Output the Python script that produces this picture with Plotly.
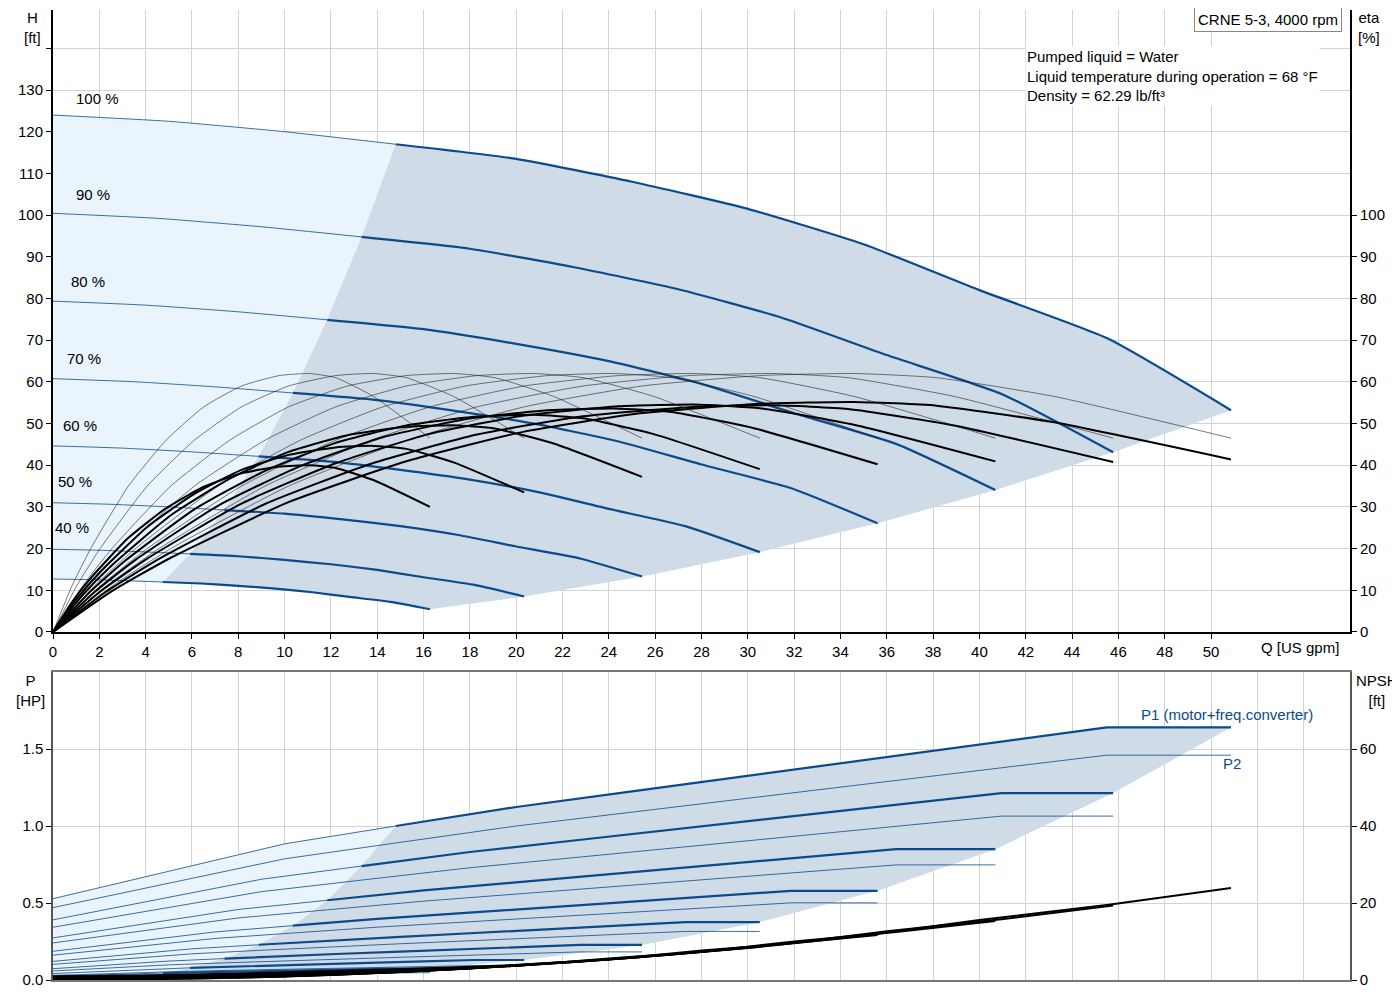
import plotly.graph_objects as go

# speeds shown on the chart and their labels
speeds = [1.0, 0.9, 0.8, 0.7, 0.6, 0.5, 0.4, 0.32]
speed_labels = ["100 %", "90 %", "80 %", "70 %", "60 %", "50 %", "40 %", "32 %"]
# label positions (Q, H)
label_q = [0.9, 0.9, 0.7, 0.5, 0.35, 0.15, 0.0, -0.15]
label_h = [125.5, 102.4, 81.5, 63.0, 47.0, 33.6, 22.5, 15.8]

# 100 % curves
q_base = [0, 5, 10, 14.8, 20, 25, 30, 35, 40, 45.5, 50.86]
h_base = [124, 122.5, 120, 117, 113.5, 108, 101.5, 93, 82, 70.5, 53.2]
p2_base = [0.47, 0.63, 0.787, 0.89, 1.0, 1.09, 1.18, 1.27, 1.36, 1.46, 1.46]
npsh_base = [1.0, 1.3, 2.0, 2.8, 3.9, 5.8, 8.3, 11.5, 15.6, 19.5, 23.9]
q_start = 14.8  # start of operating range at 100 %
i_start = 3

# pump efficiency vs fraction of max flow
eta_r = [0, 0.05, 0.1, 0.2, 0.3, 0.4, 0.5, 0.6, 0.68, 0.75, 0.85, 1.0]
eta_pump = [0, 11, 20, 35, 46, 54, 59, 61.5, 62, 61, 56.5, 46.5]
# motor+converter factor per speed (thick efficiency / thin efficiency)
drive_eff = [0.89, 0.877, 0.88, 0.865, 0.84, 0.8, 0.72, 0.645]

BLUE = "#0b4a8b"
DARK = "#cfdbe6"
LIGHT = "#eaf4fd"
FONT = "Liberation Sans"

fig = go.Figure()


def scaled(s, vals, power):
    return [v * s ** power for v in vals]


def add(x, y, color, width, xa="x", ya="y", shape="spline"):
    fig.add_trace(go.Scatter(x=x, y=y, mode="lines", xaxis=xa, yaxis=ya,
                             line=dict(color=color, width=width, shape=shape, smoothing=0.5),
                             hoverinfo="skip", showlegend=False))


def fill(x, y, color, xa="x", ya="y"):
    fig.add_trace(go.Scatter(x=x, y=y, mode="lines", fill="toself", fillcolor=color,
                             line=dict(width=0), xaxis=xa, yaxis=ya,
                             hoverinfo="skip", showlegend=False))


def regions(curve, ends_y, starts_y, xa, ya):
    s0, sl = speeds[0], speeds[-1]
    c0, cl = curve(s0), curve(sl)
    # light region
    lx = q_base[:i_start + 1] + [s * q_start for s in speeds[1:]] + [sl * q for q in q_base[:i_start + 1]][::-1]
    ly = c0[:i_start + 1] + starts_y[1:] + cl[:i_start + 1][::-1]
    fill(lx, ly, LIGHT, xa, ya)
    # dark region
    dx = q_base[i_start:] + [s * q_base[-1] for s in speeds[1:]] + [sl * q for q in q_base[i_start:]][::-1] \
        + [s * q_start for s in speeds[::-1]]
    dy = c0[i_start:] + ends_y[1:] + cl[i_start:][::-1] + starts_y[::-1]
    fill(dx, dy, DARK, xa, ya)


# head curves
h_curves = lambda s: scaled(s, h_base, 2)
regions(h_curves, [h_curves(s)[-1] for s in speeds], [h_curves(s)[i_start] for s in speeds], "x", "y")

# power curves (P1 = P2 / drive efficiency)
p1_of = {s: [v / drive_eff[k] for v in scaled(s, p2_base, 3)] for k, s in enumerate(speeds)}
regions(lambda s: p1_of[s], [p1_of[s][-1] for s in speeds], [p1_of[s][i_start] for s in speeds], "x2", "y3")

for k, s in enumerate(speeds):
    q = scaled(s, q_base, 1)
    h = h_curves(s)
    add(q[:i_start + 1], h[:i_start + 1], BLUE, 0.8)
    add(q[i_start:], h[i_start:], BLUE, 2.2)
    qe = [r * q_base[-1] * s for r in eta_r]
    add(qe, eta_pump, "#222222", 0.6, "x", "y2")
    add(qe, [e * drive_eff[k] for e in eta_pump], "black", 2.0, "x", "y2")
    fig.add_annotation(x=label_q[k], y=label_h[k], text=speed_labels[k], showarrow=False,
                       xanchor="left", yanchor="bottom", font=dict(size=15, family=FONT, color="black"))
    # bottom panel
    p1 = p1_of[s]
    p2 = scaled(s, p2_base, 3)
    add(q[:i_start + 1], p1[:i_start + 1], BLUE, 0.8, "x2", "y3", "linear")
    add(q[i_start:], p1[i_start:], BLUE, 2.2, "x2", "y3", "linear")
    add(q, p2, BLUE, 0.8, "x2", "y3", "linear")
    add(q, scaled(s, npsh_base, 2), "black", 2.0, "x2", "y4")

tick_font = dict(size=15, family=FONT, color="black")
grid = "#d3d3d3"
top_dom = [0.3588, 1.0]
bot_dom = [0.0, 0.3175]

fig.update_layout(
    width=1400, height=1000, plot_bgcolor="white", paper_bgcolor="white",
    margin=dict(l=45, r=58, t=2, b=28, autoexpand=False), showlegend=False,
    font=dict(family=FONT, size=15, color="black"),
    xaxis=dict(domain=[0, 1], range=[0, 56], anchor="y", tickvals=list(range(0, 51, 2)),
               showgrid=True, gridcolor=grid, showline=True, linecolor="black", linewidth=2,
               ticks="outside", ticklen=5, tickcolor="black", tickfont=tick_font, zeroline=False,
               automargin=False),
    yaxis=dict(domain=top_dom, range=[0, 149.2], anchor="x", tickvals=list(range(0, 141, 10)),
               ticktext=[str(v) for v in range(0, 131, 10)] + [""],
               showgrid=True, gridcolor=grid, showline=True, linecolor="black", linewidth=2,
               ticks="outside", ticklen=5, tickcolor="black", tickfont=tick_font, zeroline=False,
               automargin=False),
    yaxis2=dict(domain=top_dom, range=[0, 149.2], anchor="x", overlaying="y", side="right",
                tickvals=list(range(0, 101, 10)), showgrid=False, showline=True, linecolor="black",
                linewidth=2, ticks="outside", ticklen=5, tickcolor="black", tickfont=tick_font,
                zeroline=False, automargin=False),
    xaxis2=dict(domain=[0, 1], range=[0, 56], anchor="y3", tickvals=list(range(0, 57, 2)),
                showticklabels=False, showgrid=True, gridcolor=grid, showline=True, mirror=True,
                linecolor="#777777", linewidth=1.5, zeroline=False, automargin=False),
    yaxis3=dict(domain=bot_dom, range=[0, 2.0], anchor="x2", tickvals=[0, 0.5, 1.0, 1.5],
                ticktext=["0.0", "0.5", "1.0", "1.5"], showgrid=True, gridcolor=grid,
                showline=True, linecolor="#555555", linewidth=1.5, ticks="outside", ticklen=5,
                tickcolor="black", tickfont=tick_font, zeroline=False, automargin=False),
    yaxis4=dict(domain=bot_dom, range=[0, 80], anchor="x2", overlaying="y3", side="right",
                tickvals=[0, 20, 40, 60], showgrid=False, showline=True, linecolor="#555555",
                linewidth=1.5, ticks="outside", ticklen=5, tickcolor="black", tickfont=tick_font,
                zeroline=False, automargin=False),
)


def paper_note(px, py, text, xanchor="center", color="black", **kw):
    fig.add_annotation(x=(px - 45) / 1297, y=(972 - py) / 970, xref="paper", yref="paper",
                       text=text, showarrow=False, xanchor=xanchor, yanchor="middle",
                       font=dict(size=15, family=FONT, color=color), **kw)


paper_note(24, 19, "H<br>[ft]")
paper_note(1361, 19, "eta<br>[%]")
paper_note(22, 682, "P<br>[HP]")
paper_note(1369, 682, "NPSH<br>[ft]")
paper_note(1292, 639, "Q [US gpm]")
paper_note(1260, 12, "CRNE 5-3, 4000 rpm", bordercolor="#888888", borderwidth=1,
           bgcolor="white", borderpad=3)
paper_note(1017, 68, "Pumped liquid = Water<br>Liquid temperature during operation = 68 °F<br>Density = 62.29 lb/ft³",
           xanchor="left", bgcolor="white", align="left")
paper_note(1131, 706, "P1 (motor+freq.converter)", xanchor="left", color=BLUE)
paper_note(1213, 755, "P2", xanchor="left", color=BLUE)

fig.write_html("out.html")
